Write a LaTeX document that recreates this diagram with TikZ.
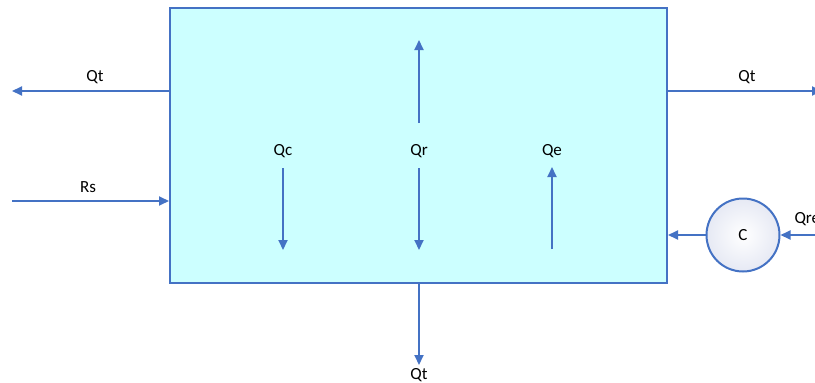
\documentclass[tikz,border=0pt]{standalone}
\usepackage{fontspec}
\setmainfont{Carlito}
\usetikzlibrary{arrows.meta}
\definecolor{edge}{HTML}{4472C4}
\definecolor{tankfill}{HTML}{CCFFFF}
\definecolor{ballfill}{HTML}{E6E9F4}

\begin{document}
\begin{tikzpicture}[
    x=1pt, y=-1pt,
    >={Triangle[length=10pt,width=9pt]},
    every node/.style={font=\fontsize{17}{20}\selectfont},
    tank/.style={draw=edge, fill=tankfill, line width=2pt, inner sep=0pt},
    ball/.style={draw=edge, circle, line width=2pt, inner sep=0pt,
        minimum size=73pt, inner color=white, outer color=ballfill},
    flow/.style={edge, line width=2pt, ->},
]

% --- frame ---
\useasboundingbox (0,0) rectangle (815,383);

% --- tank ---
\node[tank, minimum width=497pt, minimum height=275pt] (tank) at (418.5,145.5) {};

% --- compressor ---
\node[ball] (comp) at (743,235) {C};

% free ends
\coordinate (qtl) at (12,91);
\coordinate (rs) at (12,201);
\coordinate (qtr) at (822,91);
\coordinate (qre) at (815,235);
\coordinate (qtb) at (419,365);

% --- outer flows ---
\draw[flow] (tank.west |- qtl) -- (qtl);
\node (lqtl) at (95,77) {Qt};
\draw[flow] (rs) -- (tank.west |- rs);
\node (lrs) at (88,187) {Rs};
\draw[flow] (tank.east |- qtr) -- (qtr);
\node (lqtr) at (747,77) {Qt};
\draw[flow] (qre) -- (comp.east);
\node[anchor=west] (lqre) at (791,219) {Qre};
\draw[flow] (comp.west) -- (tank.east |- comp);
\draw[flow] (tank.south -| qtb) -- (qtb);
\node (lqtb) at (419,375) {Qt};

% --- inner flows ---
\node (qc) at (283,151) {Qc};
\node (qr) at (419,151) {Qr};
\node (qe) at (552,151) {Qe};
\coordinate (qcbeg) at (283,168);
\coordinate (qcend) at (283,250);
\coordinate (qrbeg) at (419,168);
\coordinate (qrend) at (419,250);
\coordinate (qrlow) at (419,123);
\coordinate (qrtop) at (419,40);
\coordinate (qebot) at (552,249);
\coordinate (qetop) at (552,167);
\draw[flow] (qcbeg) -- (qcend);
\draw[flow] (qrlow) -- (qrtop);
\draw[flow] (qrbeg) -- (qrend);
\draw[flow] (qebot) -- (qetop);

\end{tikzpicture}
\end{document}
